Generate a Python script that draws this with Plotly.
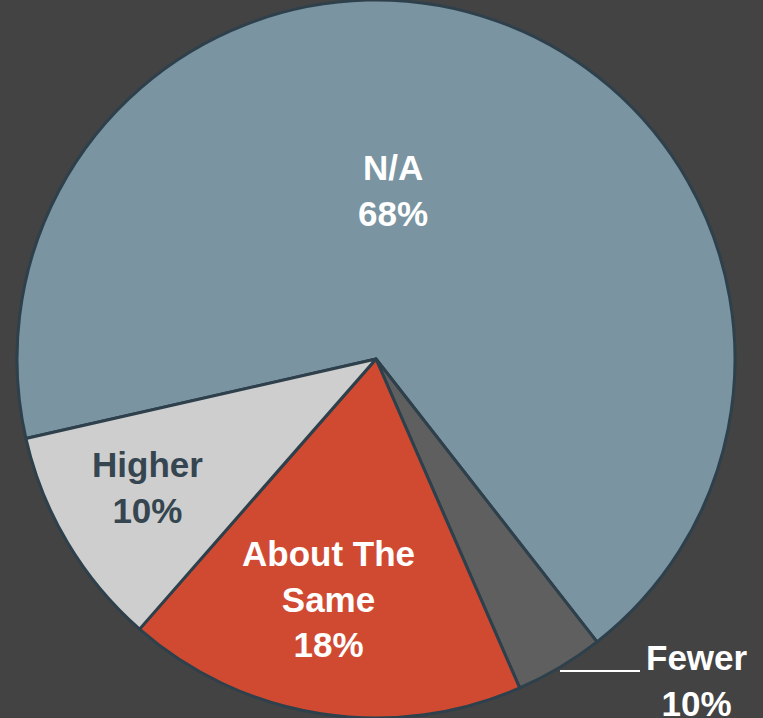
import plotly.graph_objects as go

# Data
categories = ["N/A", "Fewer", "About The Same", "Higher"]
values = [68, 4, 18, 10]
label_names = ["N/A", "Fewer", "About The<br>Same", "Higher"]
label_pcts = ["68%", "10%", "18%", "10%"]

# Styles
slice_colors = ["#7A94A1", "#5F5F5F", "#D04A32", "#CECECE"]
label_colors = ["#FFFFFF", "#FFFFFF", "#FFFFFF", "#354651"]
label_pos = [(393, 190), (697, 680), (328, 599), (147, 487)]
W, H = 763, 718
BG = "#434343"

fig = go.Figure(go.Pie(
    labels=categories,
    values=values,
    sort=False,
    direction="clockwise",
    rotation=-102.8,
    marker=dict(colors=slice_colors, line=dict(color="#2E404B", width=3)),
    textinfo="none",
    hoverinfo="label+percent",
    showlegend=False,
    domain=dict(x=[0, 752 / W], y=[0, 1]),
))

annotations = []
for name, pct, col, (px, py) in zip(label_names, label_pcts, label_colors, label_pos):
    annotations.append(dict(
        x=px / W, y=1 - py / H, xref="paper", yref="paper",
        text=f"<b>{name}<br>{pct}</b>", showarrow=False,
        font=dict(family="Liberation Sans, Arial, sans-serif", size=35, color=col),
        align="center", xanchor="center", yanchor="middle",
    ))

fig.update_layout(
    width=W, height=H,
    margin=dict(l=0, r=0, t=0, b=0),
    paper_bgcolor=BG, plot_bgcolor=BG,
    annotations=annotations,
    shapes=[dict(type="line", xref="paper", yref="paper",
                 x0=560 / W, x1=640 / W, y0=1 - 671 / H, y1=1 - 671 / H,
                 line=dict(color="#FFFFFF", width=2))],
)

fig.write_html(
    "out.html",
    config={"displayModeBar": False},
    post_script="document.body.style.margin='0';document.body.style.background='#434343';document.body.style.overflow='hidden';",
)
